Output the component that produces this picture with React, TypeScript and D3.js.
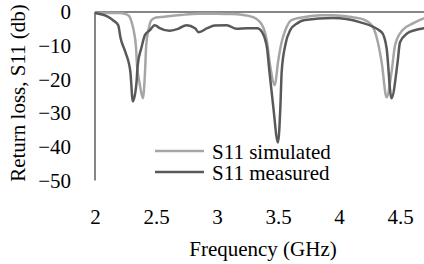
import React, { useRef, useEffect } from 'react'
import * as d3 from 'd3'

// simulated S11 (GHz, dB)
const simFreq = [2.0, 2.1, 2.2, 2.25, 2.28, 2.3, 2.32, 2.335, 2.345, 2.365, 2.393, 2.41, 2.42, 2.44, 2.46, 2.5, 2.57, 2.7, 2.85, 3.0, 3.1, 3.2, 3.3, 3.37, 3.41, 3.435, 3.475, 3.5, 3.53, 3.56, 3.61, 3.72, 3.85, 3.95, 4.1, 4.2, 4.27, 4.31, 4.35, 4.39, 4.43, 4.46, 4.52, 4.61, 4.7, 4.8]
const simS11 = [-0.2, -0.3, -0.3, -0.6, -1.2, -3, -6, -10, -16, -21, -25.6, -17.8, -9.8, -5, -2.5, -1.6, -1.4, -0.9, -0.5, -0.5, -0.6, -0.8, -1.6, -3.9, -8.9, -15.8, -21.7, -14.9, -8.9, -5.4, -2.4, -1.5, -1.0, -1.0, -1.5, -2.2, -4, -7.7, -15, -25.3, -18, -9.8, -5.4, -3.3, -1.8, -1.2]

// measured S11 (GHz, dB)
const measFreq = [2.0, 2.1, 2.15, 2.19, 2.21, 2.25, 2.29, 2.31, 2.34, 2.35, 2.38, 2.41, 2.45, 2.49, 2.53, 2.61, 2.68, 2.75, 2.82, 2.85, 2.92, 2.98, 3.08, 3.16, 3.25, 3.33, 3.37, 3.41, 3.43, 3.46, 3.5, 3.52, 3.53, 3.56, 3.6, 3.66, 3.72, 3.95, 4.17, 4.35, 4.39, 4.43, 4.48, 4.5, 4.56, 4.62, 4.7, 4.8]
const measS11 = [-0.3, -1.3, -2.5, -3.9, -7.8, -12, -17.8, -26.5, -21, -15.8, -10.7, -6.8, -5.4, -3.9, -4.8, -5.6, -5.0, -3.9, -4.8, -6, -4.8, -4.0, -3.9, -5.0, -4.8, -4.8, -6, -10.7, -17.8, -27.7, -38.7, -27.7, -17.8, -9.8, -5.4, -3.3, -2.4, -1.8, -3, -6, -10.7, -25.6, -15, -9, -6.3, -5.4, -4.8, -4.5]

const xTicks = [2, 2.5, 3, 3.5, 4, 4.5]
const yTicks = [0, -10, -20, -30, -40, -50]
const seriesNames = ['S11 simulated', 'S11 measured']
const seriesColors = ['#a6a6a6', '#595959']

const W = 424
const H = 264
const font = "'Liberation Serif', 'Times New Roman', serif"

const App = () => {
  const x = d3.scaleLinear().domain([2, 5]).range([95, 461])
  const y = d3.scaleLinear().domain([-50, 0]).range([180.5, 12])

  const xAxisEl = useRef(null)
  const yAxisEl = useRef(null)

  useEffect(() => {
    const xAxis = d3.axisBottom(x).tickValues(xTicks).tickSize(0).tickPadding(9).tickFormat(d3.format('~g'))
    const yAxis = d3.axisLeft(y).tickValues(yTicks).tickSize(0).tickPadding(24).tickFormat(d3.format('~g'))
    const gx = d3.select(xAxisEl.current).call(xAxis)
    gx.select('.domain').remove()
    gx.attr('font-family', null).attr('font-size', null)
    gx.selectAll('text').attr('fill', '#000')
    const gy = d3.select(yAxisEl.current).call(yAxis)
    gy.select('.domain').remove()
    gy.attr('font-family', null).attr('font-size', null)
    gy.selectAll('text').attr('fill', '#000')
  }, [])

  const simPath = d3.line<number>().x((d) => x(d)).y((d, i) => y(simS11[i])).curve(d3.curveMonotoneX)(simFreq)
  const measPath = d3.line<number>().x((d) => x(d)).y((d, i) => y(measS11[i])).curve(d3.curveMonotoneX)(measFreq)

  return (
    <svg width={W} height={H} style={{ position: 'absolute', left: 0, top: 0, background: '#fff', fontFamily: font, fontSize: 21 }}>
      <line x1={x(2)} x2={W} y1={y(0)} y2={y(0)} stroke="#868686" strokeWidth={2} />
      <line x1={x(2)} x2={x(2)} y1={y(0)} y2={y(-50)} stroke="#868686" strokeWidth={2} />
      <path d={simPath || ''} fill="none" stroke={seriesColors[0]} strokeWidth={2.5} />
      <path d={measPath || ''} fill="none" stroke={seriesColors[1]} strokeWidth={2.5} />
      <g ref={xAxisEl} transform="translate(0, 200)" />
      <g ref={yAxisEl} transform={`translate(${x(2)}, 0)`} />
      {seriesNames.map((name, i) => (
        <g key={name} transform={`translate(0, ${151 + i * 21})`}>
          <line x1={155} x2={204} y1={0} y2={0} stroke={seriesColors[i]} strokeWidth={2.5} />
          <text x={212} y={7.5}>{name}</text>
        </g>
      ))}
      <text x={263} y={256} textAnchor="middle">Frequency (GHz)</text>
      <text transform="translate(25, 93) rotate(-90)" textAnchor="middle">Return loss, S11 (db)</text>
    </svg>
  )
}

export default App
